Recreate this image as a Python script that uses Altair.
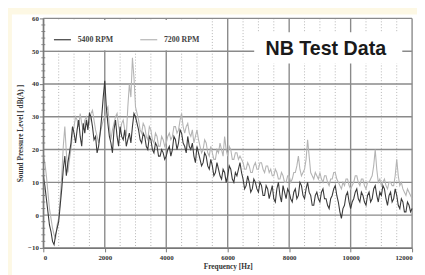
import altair as alt
import pandas as pd

# ---------------- data ----------------
freq = list(range(0, 12001, 50))

rpm5400 = [12, 9, 5, 1, -3, -5, -8, -9, -6, -4, -2, 3, 8, 14, 18, 12, 16, 19, 22, 27,
           25, 22, 26, 29, 24, 21, 28, 25, 29, 26, 31, 30, 27, 23, 24, 19, 21, 25, 30, 36,
           41, 33, 28, 24, 22, 19, 26, 29, 24, 21, 27, 24, 23, 26, 21, 23, 25, 22, 27, 31,
           30, 28, 26, 23, 22, 25, 24, 21, 20, 24, 23, 20, 19, 22, 21, 18, 18, 20, 19, 17,
           18, 20, 21, 18, 20, 24, 23, 20, 22, 26, 25, 22, 21, 19, 24, 21, 20, 22, 18, 16,
           21, 19, 17, 15, 16, 19, 18, 15, 14, 17, 15, 12, 13, 16, 14, 12, 11, 14, 13, 10,
           12, 15, 14, 11, 10, 13, 12, 14, 16, 13, 11, 8, 9, 12, 10, 7, 8, 11, 10, 8,
           7, 10, 9, 6, 6, 9, 8, 5, 7, 9, 5, 4, 8, 10, 6, 4, 9, 7, 5, 8,
           7, 5, 4, 7, 8, 5, 6, 10, 9, 6, 5, 8, 10, 7, 6, 3, 3, 6, 7, 5,
           4, 7, 8, 5, 5, 3, 2, 5, 6, 8, 9, 6, 4, 1, -1, 2, 3, 6, 7, 4,
           2, 4, 5, 7, 8, 5, 4, 7, 6, 4, 3, 6, 7, 4, 5, 8, 9, 6, 4, 7,
           6, 9, 8, 5, 3, 6, 7, 4, 5, 8, 6, 3, 2, 5, 4, 1, 1, 4, 3, 1,
           2]

rpm7200 = [18, 16, 12, 7, 2, -1, -4, -6, -7, -3, -1, 5, 12, 21, 27, 19, 13, 17, 20, 25,
           27, 30, 29, 27, 31, 28, 26, 29, 30, 27, 28, 31, 32, 29, 26, 24, 22, 25, 27, 29,
           30, 32, 33, 27, 23, 26, 28, 30, 31, 27, 25, 28, 29, 26, 24, 33, 40, 36, 48, 42,
           33, 31, 29, 26, 25, 28, 27, 24, 23, 27, 26, 23, 22, 25, 24, 21, 21, 24, 23, 21,
           22, 24, 25, 23, 24, 27, 27, 25, 26, 29, 31, 27, 25, 27, 28, 25, 24, 26, 22, 24,
           26, 23, 21, 19, 20, 23, 22, 19, 18, 21, 19, 17, 17, 20, 19, 22, 20, 18, 24, 20,
           18, 21, 20, 17, 17, 19, 19, 17, 18, 17, 16, 14, 14, 16, 15, 13, 13, 15, 16, 14,
           14, 16, 16, 14, 13, 15, 15, 13, 14, 12, 12, 14, 13, 11, 11, 13, 12, 10, 10, 12,
           12, 10, 11, 13, 13, 15, 18, 14, 12, 13, 14, 17, 23, 18, 13, 12, 11, 13, 12, 11,
           13, 11, 10, 12, 12, 10, 9, 11, 11, 13, 13, 11, 10, 9, 8, 10, 9, 11, 11, 9,
           8, 9, 10, 12, 12, 10, 9, 11, 11, 9, 8, 10, 10, 11, 12, 15, 20, 14, 10, 11,
           9, 10, 11, 9, 8, 10, 10, 9, 9, 12, 17, 12, 9, 10, 8, 7, 6, 8, 7, 6,
           5]

series_names = ["5400 RPM", "7200 RPM"]
series_colors = ["#3a3a3a", "#b4b4b4"]

x_major = list(range(0, 12001, 2000))
x_minor = [v for v in range(500, 12000, 500) if v % 2000 != 0]
y_major = list(range(-10, 61, 10))
y_minor = [v for v in range(-8, 60, 2) if v % 10 != 0]

badge_text = "NB Test Data"
x_title = "Frequency [Hz]"
y_title = "Sound Pressure Level [ dB(A) ]"

# ---------------- tables ----------------
df = pd.DataFrame({
    "f": freq + freq,
    "spl": rpm7200 + rpm5400,
    "series": [series_names[1]] * len(freq) + [series_names[0]] * len(freq),
})

W, H = 376, 234
xscale = alt.Scale(domain=[0, 12000], nice=False, zero=False)
yscale = alt.Scale(domain=[-10, 60], nice=False, zero=False)
xaxis = alt.Axis(values=x_major, format="d", grid=False, title=x_title,
                 zindex=1, tickSize=4, labelPadding=2, titlePadding=2,
                 labelOverlap=False)
yaxis = alt.Axis(values=y_major, format="d", grid=False, title=y_title,
                 zindex=1, tickSize=4, labelPadding=1, titlePadding=3,
                 labelOverlap=False)

one = pd.DataFrame({"a": [0]})
SERIF = "Liberation Serif"

panel = alt.Chart(one).mark_rect(color="white").encode(
    x=alt.value(-32), x2=alt.value(W + 8), y=alt.value(-4), y2=alt.value(H + 30)
)

minor_v = alt.Chart(pd.DataFrame({"f": x_minor})).mark_rule(
    color="#b5b5b5", strokeWidth=1, strokeDash=[1, 2]
).encode(x=alt.X("f:Q", scale=xscale, axis=xaxis))

major_v = alt.Chart(pd.DataFrame({"f": x_major})).mark_rule(
    color="#8a8a8a", strokeWidth=1.4
).encode(x=alt.X("f:Q", scale=xscale, axis=xaxis))

major_h = alt.Chart(pd.DataFrame({"spl": y_major})).mark_rule(
    color="#8a8a8a", strokeWidth=1.4
).encode(y=alt.Y("spl:Q", scale=yscale, axis=yaxis))

minor_ticks = alt.Chart(pd.DataFrame({"spl": y_minor})).mark_rule(
    color="#888888", strokeWidth=1
).encode(y=alt.Y("spl:Q", scale=yscale, axis=yaxis), x=alt.value(-2), x2=alt.value(2))

lines = alt.Chart(df).mark_line(strokeWidth=1.1).encode(
    x=alt.X("f:Q", scale=xscale, axis=xaxis),
    y=alt.Y("spl:Q", scale=yscale, axis=yaxis),
    color=alt.Color("series:N",
                    scale=alt.Scale(domain=series_names, range=series_colors),
                    legend=alt.Legend(orient="none", legendX=10, legendY=12,
                                      direction="horizontal", title=None,
                                      symbolType="stroke", symbolSize=300,
                                      symbolStrokeWidth=1.2, labelOffset=6,
                                      columnPadding=24, zindex=1,
                                      labelFont=SERIF, labelFontWeight="bold",
                                      labelFontSize=8, labelColor="#444")),
    detail="series:N",
)

legend_box = alt.Chart(one).mark_rect(color="white").encode(
    x=alt.value(1), x2=alt.value(171), y=alt.value(1.5), y2=alt.value(32.5)
)

badge_box = alt.Chart(one).mark_rect(color="white").encode(
    x=alt.value(215), x2=alt.value(366), y=alt.value(14), y2=alt.value(46)
)

badge = alt.Chart(pd.DataFrame({"label": [badge_text]})).mark_text(
    font="Liberation Sans", fontWeight="bold", fontSize=20, color="#1a1a1a",
    align="center", baseline="alphabetic"
).encode(text="label:N", x=alt.value(288), y=alt.value(37))

chart = alt.layer(
    panel, minor_v, major_v, major_h, lines, legend_box, badge_box, badge, minor_ticks
).properties(
    width=W, height=H,
    background="#fdf8e4",
    padding={"left": 36, "top": 8, "right": 5, "bottom": 25},
    autosize=alt.AutoSizeParams(type="none"),
).configure_view(
    stroke=None
).configure_axis(
    labelFont=SERIF, labelFontWeight="bold", labelFontSize=7, labelColor="#333",
    titleFont=SERIF, titleFontWeight="bold", titleFontSize=7.5, titleColor="#333",
    domainColor="#777", tickColor="#777", domainWidth=1.2,
)

chart.save("out.html", embed_options={"renderer": "svg", "actions": False})
